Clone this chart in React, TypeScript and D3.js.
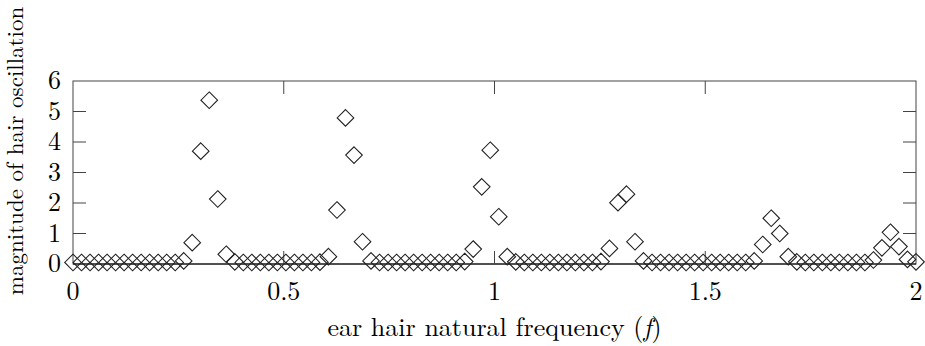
import React from "react";
import * as d3 from "d3";

// 100 samples, evenly spread on [0, 2]
const sampleCount = 100;
const magnitude = [
  0.05, 0.05, 0.05, 0.05, 0.05, 0.05, 0.05, 0.05, 0.05, 0.05,
  0.05, 0.05, 0.05, 0.10, 0.70, 3.70, 5.37, 2.13, 0.32, 0.07,
  0.05, 0.05, 0.05, 0.05, 0.05, 0.05, 0.05, 0.05, 0.05, 0.06,
  0.24, 1.77, 4.79, 3.57, 0.73, 0.10, 0.05, 0.05, 0.05, 0.05,
  0.05, 0.05, 0.05, 0.05, 0.05, 0.05, 0.08, 0.49, 2.53, 3.73,
  1.55, 0.24, 0.07, 0.05, 0.05, 0.05, 0.05, 0.05, 0.05, 0.05,
  0.05, 0.05, 0.08, 0.51, 2.01, 2.29, 0.73, 0.10, 0.05, 0.05,
  0.05, 0.05, 0.05, 0.05, 0.05, 0.05, 0.05, 0.05, 0.05, 0.05,
  0.10, 0.64, 1.50, 1.00, 0.24, 0.07, 0.05, 0.05, 0.05, 0.05,
  0.05, 0.05, 0.05, 0.05, 0.13, 0.53, 1.04, 0.57, 0.15, 0.07,
];
const xTicks = [0, 0.5, 1, 1.5, 2];
const yTicks = [0, 1, 2, 3, 4, 5, 6];

const width = 925,
  height = 346;
const margin = { left: 73, right: 9, top: 81, bottom: 82 };
const font = '"Latin Modern Roman", "CMU Serif", "Liberation Serif", serif';
const fontSize = 26;
const tickLen = 13;

export default function App() {
  const x = d3.scaleLinear().domain([0, 2]).range([margin.left, width - margin.right]);
  const y = d3.scaleLinear().domain([0, 6]).range([height - margin.bottom, margin.top]);
  const freq = d3.range(sampleCount).map((i) => (i * 2) / (sampleCount - 1));
  const r = 8.3;
  const diamond = `M0,${-r}L${r},0L0,${r}L${-r},0Z`;

  const [x0, x1] = x.range();
  const [y0, y1] = y.range();

  return (
    <svg
      width={width}
      height={height}
      style={{ position: "absolute", left: 0, top: 0, background: "#fff" }}
      fontFamily={font}
      fontSize={fontSize}
    >
      {/* frame */}
      <rect x={x0} y={y1} width={x1 - x0} height={y0 - y1} fill="none" stroke="#444" strokeWidth={1} />
      <line x1={x0} x2={x1} y1={y0} y2={y0} stroke="#000" strokeWidth={1.2} />

      {/* ticks, mirrored on all sides */}
      {yTicks.slice(1, -1).map((t) => (
        <g key={"y" + t} stroke="#444">
          <line x1={x0} x2={x0 + tickLen} y1={y(t)} y2={y(t)} />
          <line x1={x1} x2={x1 - tickLen} y1={y(t)} y2={y(t)} />
        </g>
      ))}
      {xTicks.slice(1, -1).map((t) => (
        <g key={"x" + t} stroke="#444">
          <line x1={x(t)} x2={x(t)} y1={y0} y2={y0 - tickLen} />
          <line x1={x(t)} x2={x(t)} y1={y1} y2={y1 + tickLen} />
        </g>
      ))}

      {/* data */}
      {magnitude.map((m, i) => (
        <path
          key={i}
          d={diamond}
          transform={`translate(${x(freq[i])},${y(m)})`}
          fill="none"
          stroke="#222"
          strokeWidth={1.1}
        />
      ))}

      {/* tick labels */}
      {yTicks.map((t) => (
        <text key={"yl" + t} x={x0 - 12} y={y(t)} dy="0.32em" textAnchor="end">
          {t}
        </text>
      ))}
      {xTicks.map((t) => (
        <text key={"xl" + t} x={x(t)} y={y0 + 36} textAnchor="middle">
          {t}
        </text>
      ))}

      {/* axis titles */}
      <text x={(x0 + x1) / 2} y={y0 + 72} textAnchor="middle">
        ear hair natural frequency (<tspan fontStyle="italic">f</tspan>)
      </text>
      <text transform={`translate(23,151) rotate(-90)`} textAnchor="middle" fontSize={23}>
        magnitude of hair oscillation
      </text>
    </svg>
  );
}
